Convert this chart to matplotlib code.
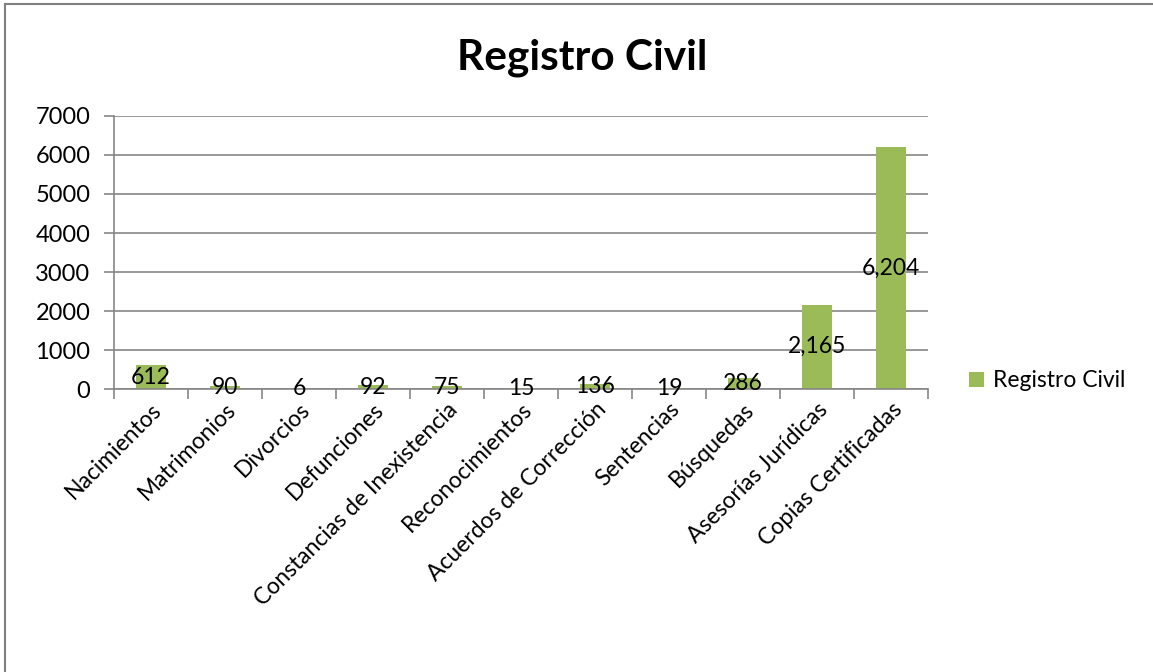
import matplotlib.pyplot as plt
from matplotlib.lines import Line2D
from matplotlib.ticker import FixedLocator, NullFormatter

plt.rcParams["font.family"] = ["Lato", "DejaVu Sans"]

CATEGORIES = [
    "Nacimientos", "Matrimonios", "Divorcios", "Defunciones",
    "Constancias de Inexistencia", "Reconocimientos", "Acuerdos de Corrección",
    "Sentencias", "Búsquedas", "Asesorías Jurídicas", "Copias Certificadas",
]
VALUES = [612, 90, 6, 92, 75, 15, 136, 19, 286, 2165, 6204]
Y_TICKS = [0, 1000, 2000, 3000, 4000, 5000, 6000, 7000]
SERIES_NAME = "Registro Civil"

BAR_COLOR = "#9BBB59"
GRID_COLOR = "#868686"
FS = 16.5


def fmt_label(v):
    return f"{v:,}"


fig = plt.figure(figsize=(11.53, 6.72), dpi=100)
ax = fig.add_axes([0.0989, 0.4211, 0.7060, 0.4063])

x = list(range(len(CATEGORIES)))
ax.bar(x, VALUES, width=0.4, color=BAR_COLOR, label=SERIES_NAME, zorder=2)

for xi, v in zip(x, VALUES):
    ax.text(xi, v / 2, fmt_label(v), ha="center", va="center",
            fontsize=FS, color="black", zorder=3)

ax.set_xlim(-0.5, len(CATEGORIES) - 0.5)
ax.set_ylim(0, 7000)
ax.set_yticks(Y_TICKS)
ax.set_yticklabels([str(t) for t in Y_TICKS], fontsize=FS + 0.5)
ax.yaxis.grid(True, color=GRID_COLOR, linewidth=1.2, zorder=0)
ax.set_axisbelow(True)

# category boundaries get the tick marks, centers get the labels
ax.xaxis.set_major_locator(FixedLocator([i - 0.5 for i in range(len(CATEGORIES) + 1)]))
ax.xaxis.set_major_formatter(NullFormatter())
ax.xaxis.set_minor_locator(FixedLocator(x))
ax.set_xticklabels(CATEGORIES, minor=True, rotation=45, ha="right",
                   rotation_mode="anchor", fontsize=FS)
ax.tick_params(axis="x", which="major", length=7, color=GRID_COLOR, width=1.2)
ax.tick_params(axis="x", which="minor", length=0, pad=7)
ax.tick_params(axis="y", length=7, color=GRID_COLOR, width=1.2, pad=10)

for side in ["top", "right"]:
    ax.spines[side].set_visible(False)
for side in ["left", "bottom"]:
    ax.spines[side].set_color(GRID_COLOR)
    ax.spines[side].set_linewidth(1.2)

fig.text(0.505, 0.896, "Registro Civil", ha="center", va="baseline",
         fontsize=30.5, fontweight="bold")

ax.legend(loc="center left", bbox_to_anchor=(1.036, 0.03), frameon=False,
          fontsize=FS, handlelength=0.65, handleheight=0.65, handletextpad=0.4,
          borderpad=0)

# chart-area border (only top and left edges show in the crop)
fig.add_artist(Line2D([0.0045, 1.0], [0.9935, 0.9935], color="#808080", linewidth=1.5))
fig.add_artist(Line2D([0.0045, 0.0045], [0.0, 0.9935], color="#808080", linewidth=1.5))

fig.savefig("out.png", dpi=100)
